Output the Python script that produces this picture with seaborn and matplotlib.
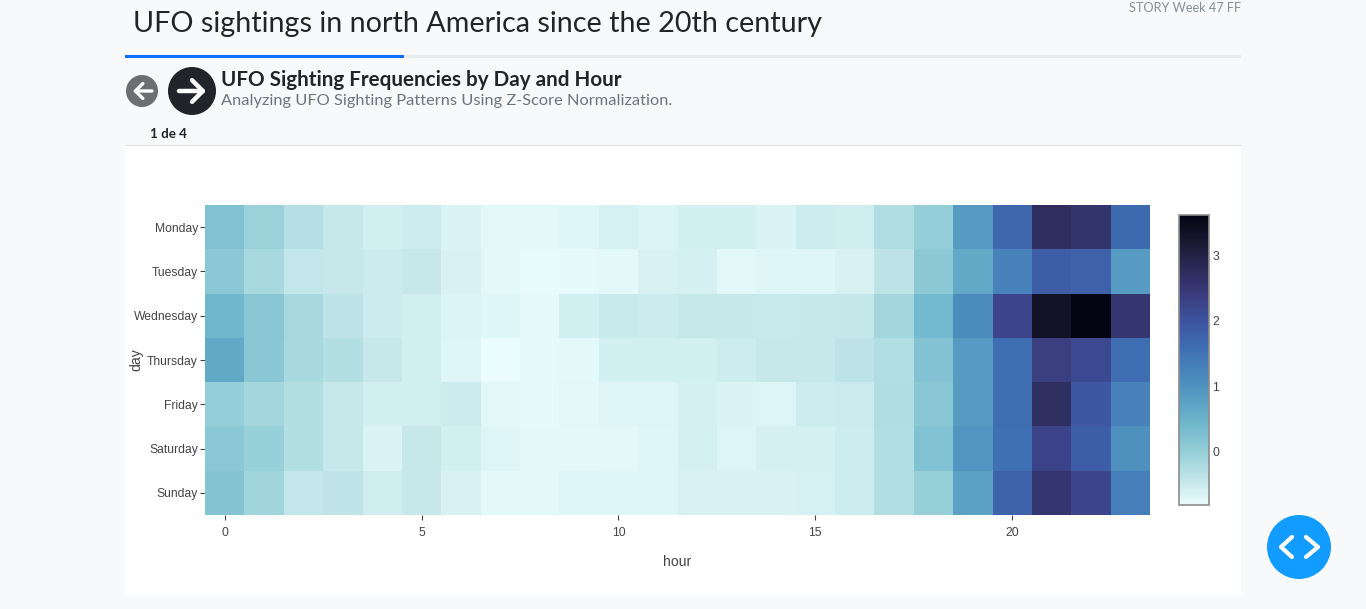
#UFO sightings heatmap, z-score by day and hour
import pandas as pd
import matplotlib.pyplot as plt
from matplotlib.colors import LinearSegmentedColormap
from matplotlib.patches import Rectangle, Ellipse
import seaborn as sns

days = ['Monday', 'Tuesday', 'Wednesday', 'Thursday', 'Friday', 'Saturday', 'Sunday']
hours = list(range(24))

monday = [0.22, -0.08, -0.32, -0.47, -0.58, -0.55, -0.66, -0.74, -0.74, -0.71, -0.63, -0.68,
          -0.6, -0.6, -0.67, -0.55, -0.56, -0.27, 0.0, 0.85, 1.68, 2.75, 2.6, 1.65]
tuesday = [0.1, -0.2, -0.43, -0.47, -0.53, -0.48, -0.65, -0.73, -0.8, -0.79, -0.75, -0.65,
           -0.62, -0.74, -0.71, -0.71, -0.65, -0.38, 0.08, 0.65, 1.25, 1.85, 1.8, 0.85]
wednesday = [0.42, 0.13, -0.18, -0.38, -0.52, -0.57, -0.69, -0.72, -0.77, -0.6, -0.5, -0.52,
             -0.47, -0.47, -0.5, -0.47, -0.45, -0.15, 0.37, 1.1, 2.25, 3.35, 3.63, 2.55]
thursday = [0.65, 0.12, -0.2, -0.3, -0.47, -0.57, -0.72, -0.83, -0.78, -0.76, -0.6, -0.6,
            -0.6, -0.55, -0.47, -0.47, -0.38, -0.28, 0.2, 0.85, 1.6, 2.35, 2.2, 1.6]
friday = [0.0, -0.15, -0.3, -0.47, -0.6, -0.57, -0.52, -0.73, -0.78, -0.74, -0.7, -0.7,
          -0.62, -0.67, -0.7, -0.55, -0.52, -0.27, 0.12, 0.85, 1.6, 2.7, 1.95, 1.25]
saturday = [0.1, -0.03, -0.3, -0.47, -0.66, -0.48, -0.6, -0.7, -0.75, -0.75, -0.73, -0.72,
            -0.62, -0.7, -0.62, -0.62, -0.55, -0.28, 0.22, 0.95, 1.55, 2.3, 1.85, 1.05]
sunday = [0.18, -0.12, -0.43, -0.4, -0.56, -0.48, -0.65, -0.75, -0.75, -0.72, -0.72, -0.72,
          -0.64, -0.65, -0.65, -0.63, -0.55, -0.28, -0.02, 0.75, 1.75, 2.55, 2.25, 1.3]

x_ticks = [0, 5, 10, 15, 20]
cbar_ticks = [0, 1, 2, 3]

W, H = 1366, 609
BG = '#f8f9fa'
CHART_FONT = 'Liberation Sans'
PAGE_FONT = 'Lato'

# plotly's ice colorscale, reversed
ice_r = ['#eafcfd', '#c0e5e8', '#95cfd8', '#72b8cd', '#599fc4', '#4886bb',
         '#3e6db2', '#3e53a0', '#3a3c7d', '#2c2a57', '#191933', '#030512']
cmap = LinearSegmentedColormap.from_list('ice_r', ice_r)


def px_axes(fig, left, top, right, bottom, **kw):
    return fig.add_axes([left / W, 1 - bottom / H, (right - left) / W, (bottom - top) / H], **kw)


sns.set_theme(style='white')
plt.rcParams['font.family'] = CHART_FONT

fig = plt.figure(figsize=(W / 100, H / 100), dpi=100, facecolor=BG)

# page furniture is drawn on a full figure axes in pixel coordinates
page = px_axes(fig, 0, 0, W, H, zorder=0)
page.set_xlim(0, W)
page.set_ylim(H, 0)
page.axis('off')

page.add_patch(Rectangle((125, 145), 1116, 450, color='white', lw=0))
page.plot([125, 1241], [144.5, 144.5], color='#dfe1e4', lw=0.8)
page.add_patch(Rectangle((125, 55), 1116, 3, color='#e9ecef', lw=0))
page.add_patch(Rectangle((125, 55), 279, 3, color='#0d6efd', lw=0))

page.text(133, 24, 'UFO sightings in north America since the 20th century', fontsize=20.67,
          family=PAGE_FONT, color='#212529', va='center')
page.text(1241, 8, 'STORY Week 47 FF', fontsize=9.15, family=PAGE_FONT, color='#868e96',
          ha='right', va='center')
page.text(221, 79.5, 'UFO Sighting Frequencies by Day and Hour', fontsize=14.86, family=PAGE_FONT,
          weight='bold', color='#212529', va='center')
page.text(221, 100.5, 'Analyzing UFO Sighting Patterns Using Z-Score Normalization.', fontsize=11.82,
          family=PAGE_FONT, color='#6c757d', va='center')
page.text(150, 134, '1 de 4', fontsize=9.6, family=PAGE_FONT, weight='bold', color='#212529',
          va='center')

# nav buttons
page.add_patch(Ellipse((142, 91), 32, 32, color='#6c6e72', lw=0))
page.add_patch(Ellipse((192, 91), 48, 48, color='#212529', lw=0))
page.annotate('', xy=(133, 91), xytext=(152, 91),
              arrowprops=dict(arrowstyle='->,head_length=0.45,head_width=0.45', color='white',
                              lw=2.4, shrinkA=0, shrinkB=0))
page.annotate('', xy=(206, 91), xytext=(179, 91),
              arrowprops=dict(arrowstyle='->,head_length=0.65,head_width=0.65', color='white',
                              lw=3.2, shrinkA=0, shrinkB=0))

# code button
page.add_patch(Ellipse((1299, 547), 64, 64, color='#129cff', lw=0))
page.plot([1292, 1281, 1292], [537, 547, 557], color='white', lw=3)
page.plot([1306, 1318, 1306], [537, 547, 557], color='white', lw=3)

# heatmap
df = pd.DataFrame([monday, tuesday, wednesday, thursday, friday, saturday, sunday],
                  index=days, columns=hours)

ax = px_axes(fig, 205, 205, 1150, 515, zorder=1)
cax = px_axes(fig, 1179, 215, 1209, 505, zorder=1)
sns.heatmap(df, ax=ax, cbar_ax=cax, cmap=cmap, vmin=-0.83, vmax=3.63, linewidths=0)

ax.set_xticks([h + 0.5 for h in x_ticks])
ax.set_xticklabels(x_ticks, rotation=0)
ax.set_yticks([i + 0.5 for i in range(len(days))])
ax.set_yticklabels(days, rotation=0, va='center_baseline')
ax.tick_params(axis='both', length=3.6, width=0.8, color='#444444', labelcolor='#444444',
               labelsize=8.7, bottom=True, left=True)
ax.tick_params(axis='x', pad=5)
ax.tick_params(axis='y', pad=1.5)
ax.set_xlabel('')
ax.set_ylabel('')

page.text(677, 562.5, 'hour', fontsize=10.1, color='#444444', ha='center', va='center')
page.text(136.5, 360, 'day', fontsize=10.1, color='#444444', ha='center', va='center', rotation=90)

cbar = ax.collections[0].colorbar
cbar.set_ticks(cbar_ticks)
cax.tick_params(axis='y', length=0, labelsize=8.7, labelcolor='#444444', pad=2.5)
cbar.outline.set_visible(True)
cbar.outline.set_edgecolor('#8c8c8c')
cbar.outline.set_linewidth(1.2)

fig.savefig('out.png', dpi=100, facecolor=BG)
